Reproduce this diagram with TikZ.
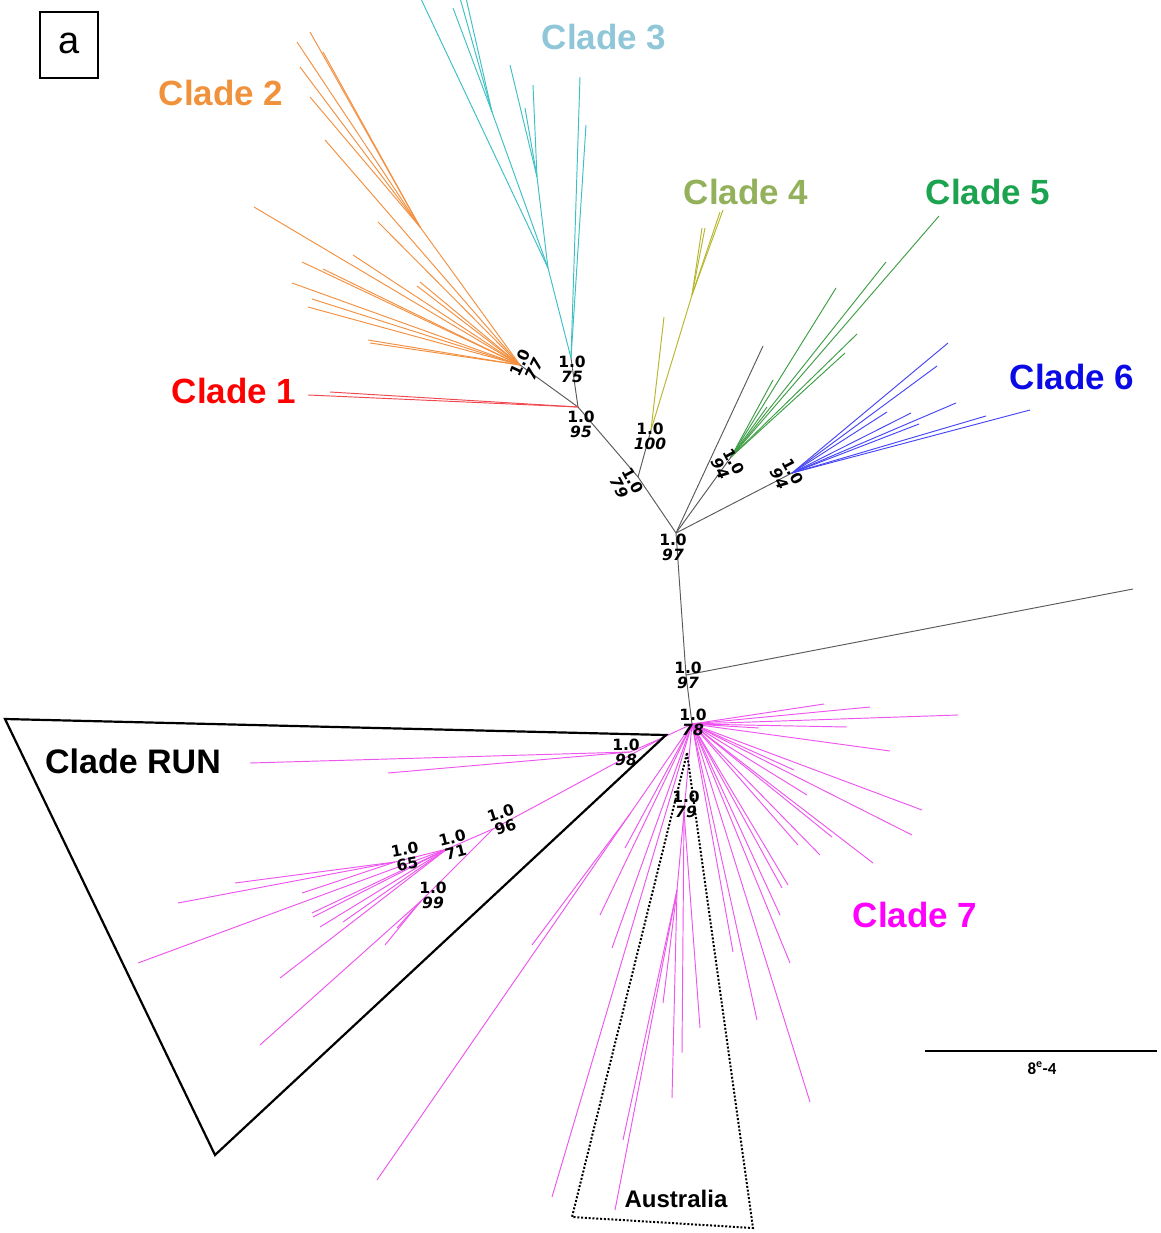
\documentclass[tikz,border=0pt]{standalone}
\usepackage{fontspec}
\setmainfont{Liberation Sans}
\newfontfamily\supfont{DejaVu Sans}
\newfontfamily\calib{Carlito}
\definecolor{cOr}{HTML}{F39040}
\definecolor{cOrL}{HTML}{F0913C}
\definecolor{cCy}{HTML}{3DBFC4}
\definecolor{cCyL}{HTML}{8FC6D8}
\definecolor{cOl}{HTML}{B7B72E}
\definecolor{cOlL}{HTML}{93B15A}
\definecolor{cGr}{HTML}{3E9E45}
\definecolor{cGrL}{HTML}{1BA34F}
\definecolor{cRd}{HTML}{F0484F}
\definecolor{cRdL}{HTML}{FF0000}
\definecolor{cBl}{HTML}{4646F5}
\definecolor{cBlL}{HTML}{0A0AE6}
\definecolor{cMg}{HTML}{EE55EE}
\definecolor{cMgL}{HTML}{FF00FF}
\definecolor{cGy}{HTML}{5A5A5A}
\begin{document}
\begin{tikzpicture}[x=1pt,y=-1pt,
  br/.style={line width=0.95pt},
  gy/.style={br,draw=cGy},
  or/.style={br,draw=cOr},
  cy/.style={br,draw=cCy},
  ol/.style={br,draw=cOl},
  gn/.style={br,draw=cGr},
  rd/.style={br,draw=cRd},
  bl/.style={br,draw=cBl},
  mg/.style={br,draw=cMg},
  sup/.style={font=\supfont\bfseries\fontsize{15.5}{15}\selectfont,align=center,inner sep=0pt,text=black},
  clade/.style={font=\bfseries\fontsize{35}{35}\selectfont,inner sep=0pt},
  frame/.style={line width=2.2pt,draw=black}]
\useasboundingbox (0,0) rectangle (1160,1233);

% panel letter
\node[draw,line width=1.2pt,minimum width=58pt,minimum height=66pt,inner sep=0pt] (pa) at (69,45) {};
\node[font=\fontsize{38}{38}\selectfont,inner sep=0pt] (pal) at (69,43) {a};

% internal nodes
\coordinate (n97a) at (676,533);
\coordinate (n97b) at (686,675);
\coordinate (n78) at (692,724);
\coordinate (n79) at (638,477);
\coordinate (n95) at (578,407);
\coordinate (n77) at (520,365);
\coordinate (n75) at (571,358);
\coordinate (n100) at (651,430);
\coordinate (n94a) at (731,457);
\coordinate (n94b) at (792,473);
\coordinate (tR) at (1133,589);
\coordinate (tG) at (763,346);

% backbone
\draw[gy] (n78) -- (n97b) -- (n97a) -- (n79) -- (n95);
\draw[gy] (n97b) -- (tR);
\draw[gy] (n79) -- (n100);
\draw[gy] (n95) -- (n77);
\draw[gy] (n95) -- (n75);
\draw[gy] (n97a) -- (tG);
\draw[gy] (n97a) -- (n94a);
\draw[gy] (n97a) -- (n94b);

% Clade 1
\foreach \x/\y [count=\i] in {308/395,330/392}{\coordinate (r\i) at (\x,\y); \draw[rd] (n95) -- (r\i);}

% Clade 2
\coordinate (o1) at (420,227);
\draw[or] (n77) -- (o1);
\foreach \x/\y [count=\i] in {297/42,310/32,300/67,310/97,323/52}{\coordinate (oa\i) at (\x,\y); \draw[or] (o1) -- (oa\i);}
\foreach \x/\y [count=\i] in {325/140,254/207,378/222,353/255,302/262,323/269,292/283,312/299,308/307,420/282,417/286,368/340,370/343}{\coordinate (ob\i) at (\x,\y); \draw[or] (n77) -- (ob\i);}

% Clade 3
\coordinate (c1) at (548,268);
\coordinate (c2) at (492,112);
\coordinate (c3) at (537,177);
\draw[cy] (n75) -- (c1); \draw[cy] (c1) -- (c2); \draw[cy] (c1) -- (c3);
\coordinate (ca0) at (421,-1); \draw[cy] (c1) -- (ca0);
\foreach \x/\y [count=\i] in {453/8,460/-2,466/-2}{\coordinate (ca\i) at (\x,\y); \draw[cy] (c2) -- (ca\i);}
\foreach \x/\y [count=\i] in {510/65,533/85,525/108}{\coordinate (cb\i) at (\x,\y); \draw[cy] (c3) -- (cb\i);}
\foreach \x/\y [count=\i] in {580/77,586/125}{\coordinate (cc\i) at (\x,\y); \draw[cy] (n75) -- (cc\i);}

% Clade 4
\coordinate (o4) at (692,295);
\draw[ol] (n100) -- (o4);
\foreach \x/\y [count=\i] in {723/210,720/212,702/228,705/228}{\coordinate (la\i) at (\x,\y); \draw[ol] (o4) -- (la\i);}
\coordinate (lb1) at (664,317); \draw[ol] (n100) -- (lb1);

% Clade 5
\foreach \x/\y [count=\i] in {939/216,886/262,836/288,857/334,845/353,773/380,767/407}{\coordinate (g\i) at (\x,\y); \draw[gn] (n94a) -- (g\i);}

% Clade 6
\foreach \x/\y [count=\i] in {948/343,937/366,887/412,911/413,956/403,919/424,986/416,1030/410}{\coordinate (b\i) at (\x,\y); \draw[bl] (n94b) -- (b\i);}

% Clade 7
\foreach \x/\y [count=\i] in {824/704,870/707,958/715,847/727,759/728,890/751,794/770,807/795,922/810,912/835,873/863,820/855,832/837,798/845,788/885,782/888,780/915,733/952,790/963,757/1020,810/1102,377/1180,552/1197,600/915,612/948,625/848}{\coordinate (m\i) at (\x,\y); \draw[mg] (n78) -- (m\i);}
\coordinate (k1) at (630,814); \coordinate (k1t) at (532,945); \draw[mg] (k1) -- (k1t);
\coordinate (nAus) at (684,812);
\coordinate (nAus2) at (677,890);
\draw[mg] (n78) -- (nAus) -- (nAus2);
\foreach \x/\y [count=\i] in {682/1053,700/1028}{\coordinate (u\i) at (\x,\y); \draw[mg] (nAus) -- (u\i);}
\foreach \x/\y [count=\i] in {663/1003,672/1098,623/1140,615/1210}{\coordinate (v\i) at (\x,\y); \draw[mg] (nAus2) -- (v\i);}

% Clade RUN
\coordinate (j1) at (662,738);
\coordinate (n98) at (630,752);
\coordinate (n96) at (493,829);
\coordinate (n71) at (447,849);
\coordinate (n65) at (395,862);
\coordinate (n99) at (421,901);
\draw[mg] (n78) -- (j1) -- (n98);
\draw[mg] (j1) -- (n96) -- (n71) -- (n65);
\draw[mg] (n96) -- (n99);
\foreach \x/\y [count=\i] in {250/763,388/773}{\coordinate (p\i) at (\x,\y); \draw[mg] (n98) -- (p\i);}
\foreach \x/\y [count=\i] in {235/883,178/903,302/893}{\coordinate (q\i) at (\x,\y); \draw[mg] (n65) -- (q\i);}
\foreach \x/\y [count=\i] in {138/963,312/913,313/917,320/927,343/922,280/978}{\coordinate (w\i) at (\x,\y); \draw[mg] (n71) -- (w\i);}
\foreach \x/\y [count=\i] in {260/1045,385/945,397/928}{\coordinate (z\i) at (\x,\y); \draw[mg] (n99) -- (z\i);}

% frames
\coordinate (T1) at (5,719); \coordinate (T2) at (666,735); \coordinate (T3) at (215,1155);
\draw[frame,line join=miter] (T1) -- (T2) -- (T3) -- cycle;
\coordinate (A1) at (687,753); \coordinate (A2) at (753,1228); \coordinate (A3) at (572,1217);
\draw[line width=2pt,dash pattern=on 2pt off 1.8pt] (A1) -- (A2) -- (A3) -- cycle;

% support values
\node[sup] (s97a) at (673,547) {1.0\\\textit{97}};
\node[sup] (s97b) at (688,675) {1.0\\\textit{97}};
\node[sup] (s78) at (693,722) {1.0\\\textit{78}};
\node[sup] (s98) at (626,752) {1.0\\\textit{98}};
\node[sup] (s79b) at (686,804) {1.0\\\textit{79}};
\node[sup] (s75) at (572,369) {1.0\\\textit{75}};
\node[sup] (s95) at (581,424) {1.0\\\textit{95}};
\node[sup] (s100) at (650,436) {1.0\\\textit{100}};
\node[sup,rotate=-62] (s79a) at (626,484) {1.0\\\textit{79}};
\node[sup,rotate=-62] (s94a) at (727,465) {1.0\\\textit{94}};
\node[sup,rotate=-62] (s94b) at (786,475) {1.0\\\textit{94}};
\node[sup,rotate=65] (s77) at (527,366) {1.0\\\textit{77}};
\node[sup,rotate=18] (s96) at (503,820) {1.0\\96};
\node[sup,rotate=14] (s71) at (454,845) {1.0\\71};
\node[sup,rotate=10] (s65) at (406,857) {1.0\\65};
\node[sup] (s99) at (433,895) {1.0\\\textit{99}};

% clade labels
\node[clade,text=cCyL] (L3) at (604,37) {Clade 3};
\node[clade,text=cOrL] (L2) at (221,93) {Clade 2};
\node[clade,text=cOlL] (L4) at (746,192) {Clade 4};
\node[clade,text=cGrL] (L5) at (988,192) {Clade 5};
\node[clade,text=cRdL] (L1) at (234,391) {Clade 1};
\node[clade,text=cBlL] (L6) at (1072,377) {Clade 6};
\node[clade,text=cMgL] (L7) at (915,915) {Clade 7};
\node[clade,font=\bfseries\fontsize{34}{34}\selectfont] (LR) at (133,761) {Clade RUN};
\node[font=\bfseries\fontsize{24}{24}\selectfont,inner sep=0pt] (LA) at (676,1199) {Australia};

% scale bar
\coordinate (sb1) at (925,1051); \coordinate (sb2) at (1157,1051);
\draw[line width=2.4pt] (sb1) -- (sb2);
\node[font=\calib\bfseries\fontsize{17}{17}\selectfont,inner sep=0pt] (sbl) at (1042,1068) {8\textsuperscript{e}-4};
\end{tikzpicture}
\end{document}
